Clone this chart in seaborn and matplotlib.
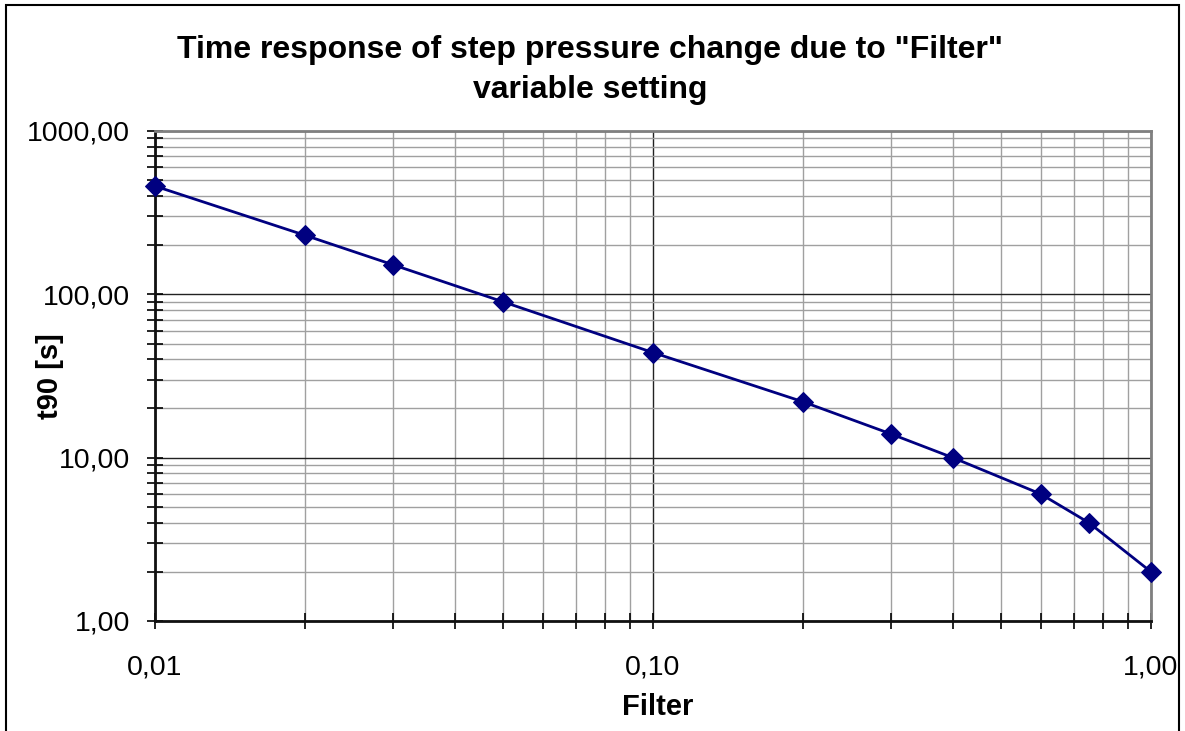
import matplotlib
matplotlib.use("Agg")
import matplotlib.pyplot as plt
import matplotlib.ticker as mticker
from matplotlib.patches import Rectangle
import seaborn as sns
import pandas as pd

filter_vals = [0.01, 0.02, 0.03, 0.05, 0.10, 0.20, 0.30, 0.40, 0.60, 0.75, 1.00]
t90_vals = [460, 230, 152, 90, 44, 22, 14, 10, 6, 4, 2]

title_text = 'Time response of step pressure change due to "Filter"\nvariable setting'
x_label = "Filter"
y_label = "t90 [s]"

sns.set_theme(style="white")
plt.rcParams['font.family'] = ['Liberation Sans', 'DejaVu Sans']
plt.rcParams['text.color'] = 'black'
plt.rcParams['axes.labelcolor'] = 'black'

df = pd.DataFrame({"Filter": filter_vals, "t90": t90_vals})

fig = plt.figure(figsize=(11.85, 7.31), dpi=100)
ax = fig.add_axes([155/1185, 1-621/731, (1151-155)/1185, (621-131)/731])

sns.lineplot(data=df, x="Filter", y="t90", ax=ax, color="#000080", lw=2.0,
             marker="D", markersize=10, markeredgecolor="#000080", zorder=5,
             clip_on=False)

ax.set_xscale("log")
ax.set_yscale("log")
ax.set_xlim(0.01, 1.0)
ax.set_ylim(1, 1000)

def fmt(v, pos):
    return f"{v:.2f}".replace(".", ",")

ax.xaxis.set_major_locator(mticker.LogLocator(base=10, numticks=10))
ax.yaxis.set_major_locator(mticker.LogLocator(base=10, numticks=10))
ax.xaxis.set_minor_locator(mticker.LogLocator(base=10, subs=range(2, 10), numticks=20))
ax.yaxis.set_minor_locator(mticker.LogLocator(base=10, subs=range(2, 10), numticks=20))
ax.xaxis.set_major_formatter(mticker.FuncFormatter(fmt))
ax.yaxis.set_major_formatter(mticker.FuncFormatter(fmt))
ax.xaxis.set_minor_formatter(mticker.NullFormatter())
ax.yaxis.set_minor_formatter(mticker.NullFormatter())

ax.grid(which="major", color="#222222", lw=1.0)
ax.grid(which="minor", color="#a0a0a0", lw=1.0)
ax.set_axisbelow(True)

ax.tick_params(axis="both", which="both", direction="inout", color="black", width=1.2,
               labelsize=20.5, labelcolor="black", left=True, bottom=True)
ax.tick_params(axis="both", which="major", length=12)
ax.tick_params(axis="both", which="minor", length=12)
ax.tick_params(axis="x", which="major", pad=18)
ax.tick_params(axis="y", which="major", pad=12)

for side in ["left", "bottom"]:
    ax.spines[side].set_color("#111111")
    ax.spines[side].set_linewidth(2.0)
for side in ["top", "right"]:
    ax.spines[side].set_color("#808080")
    ax.spines[side].set_linewidth(2.0)

ax.set_xlabel(x_label, fontsize=21, fontweight="bold")
ax.set_ylabel(y_label, fontsize=21, fontweight="bold")
ax.xaxis.set_label_coords(0.505, (621-707)/490, transform=ax.transAxes)
ax.yaxis.set_label_coords((50-155)/996, 0.5, transform=ax.transAxes)
ax.xaxis.label.set_va("center")
ax.yaxis.label.set_va("center")

fig.text(590/1185, 1-70/731, title_text, ha="center", va="center",
         fontsize=23, fontweight="bold", linespacing=1.4)

fig.patches.append(Rectangle((6/1185, -0.05), (1179-6)/1185, (731-5)/731 + 0.05,
                             transform=fig.transFigure, fill=False,
                             edgecolor="black", lw=1.5))

fig.savefig("out.png", dpi=100)
